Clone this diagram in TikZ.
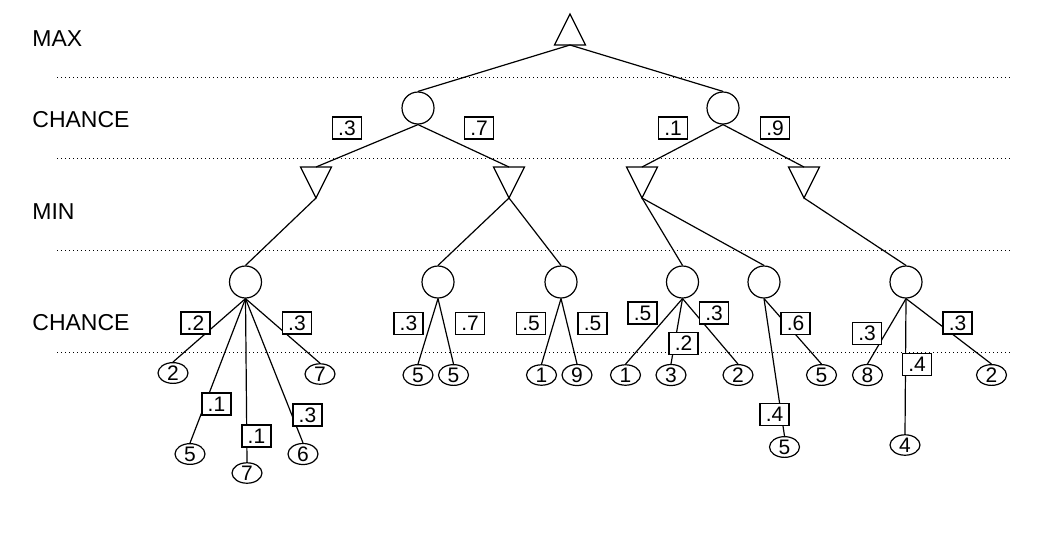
\documentclass[tikz,border=0pt]{standalone}
\usepackage{fontspec}
\setmainfont{Liberation Sans}
\usetikzlibrary{shapes.geometric}
\begin{document}
\begin{tikzpicture}[x=0.5pt,y=-0.5pt,
  ln/.style={line width=0.6pt,line join=miter},
  chance/.style={circle,draw,line width=0.6pt,minimum size=16pt,inner sep=0},
  leaf/.style={ellipse,draw,line width=0.6pt,minimum width=15pt,minimum height=10pt,inner sep=0,font=\fontsize{10.5}{11}\selectfont},
  prob/.style={rectangle,draw,fill=white,line width=0.6pt,minimum width=14.5pt,minimum height=11pt,inner sep=0,font=\fontsize{10.5}{11}\selectfont},
  lvl/.style={anchor=base west,inner sep=0,font=\fontsize{11.5}{13}\selectfont},
  sepline/.style={line width=0.5pt,dash pattern=on 0.5pt off 1.5pt}]
\useasboundingbox (0,0) rectangle (1048,558);

% level labels
\node[lvl] (lmax) at (32,46.5) {MAX};
\node[lvl] (lch1) at (32,127) {CHANCE};
\node[lvl] (lmin) at (32,219) {MIN};
\node[lvl] (lch2) at (32,330) {CHANCE};

% separators
\coordinate (s1a) at (57,77);  \coordinate (s1b) at (1012,77);
\coordinate (s2a) at (57,158); \coordinate (s2b) at (1012,158);
\coordinate (s3a) at (57,250); \coordinate (s3b) at (1012,250);
\coordinate (s4a) at (57,352); \coordinate (s4b) at (1012,352);
\draw[sepline] (s1a) -- (s1b);
\draw[sepline] (s2a) -- (s2b);
\draw[sepline] (s3a) -- (s3b);
\draw[sepline] (s4a) -- (s4b);

% MAX triangle
\draw[ln] (554.5,45) -- (585.5,45) -- (570,14) -- cycle;
\coordinate (maxb) at (570,45);

% MIN triangles
\foreach \n/\x in {t1/316,t2/509,t3/642,t4/804}{
  \draw[ln] (\x-15.5,167) -- (\x+15.5,167) -- (\x,198) -- cycle;
  \coordinate (\n t) at (\x,167);
  \coordinate (\n a) at (\x,198);
}

% chance nodes level 1
\node[chance] (ca) at (418,108) {};
\node[chance] (cb) at (723,108) {};

% chance nodes level 2
\node[chance] (da) at (245.5,282) {};
\node[chance] (db) at (438,282) {};
\node[chance] (dc) at (561,282) {};
\node[chance] (dd) at (682.5,282) {};
\node[chance] (de) at (764,282) {};
\node[chance] (df) at (906,282) {};

% leaves
\node[leaf] (a1) at (173,373) {2};
\node[leaf] (a2) at (190,454) {5};
\node[leaf] (a3) at (247,473) {7};
\node[leaf] (a4) at (303,454) {6};
\node[leaf] (a5) at (320,374) {7};
\node[leaf] (b1) at (418,375) {5};
\node[leaf] (b2) at (453.5,375) {5};
\node[leaf] (c1) at (541.5,375) {1};
\node[leaf] (c2) at (577,375) {9};
\node[leaf] (d1) at (625.5,375) {1};
\node[leaf] (d2) at (671,375) {3};
\node[leaf] (d3) at (738,375) {2};
\node[leaf] (e1) at (784.5,447) {5};
\node[leaf] (e2) at (821.5,375) {5};
\node[leaf] (f1) at (867.5,375) {8};
\node[leaf] (f2) at (905,445) {4};
\node[leaf] (f3) at (991.5,375) {2};

% edges
\draw[ln] (maxb) -- (ca.north);
\draw[ln] (maxb) -- (cb.north);
\draw[ln] (ca.south) -- (t1t);
\draw[ln] (ca.south) -- (t2t);
\draw[ln] (cb.south) -- (t3t);
\draw[ln] (cb.south) -- (t4t);
\draw[ln] (t1a) -- (da.north);
\draw[ln] (t2a) -- (db.north);
\draw[ln] (t2a) -- (dc.north);
\draw[ln] (t3a) -- (dd.north);
\draw[ln] (t3a) -- (de.north);
\draw[ln] (t4a) -- (df.north);
\foreach \p/\c in {da/a1,da/a2,da/a3,da/a4,da/a5,db/b1,db/b2,dc/c1,dc/c2,dd/d1,dd/d2,dd/d3,de/e1,de/e2,df/f1,df/f2,df/f3}
  \draw[ln] (\p.south) -- (\c.north);

% probabilities level 1
\node[prob] (pa1) at (347,128) {.3};
\node[prob] (pa2) at (479,128) {.7};
\node[prob] (pb1) at (673,128) {.1};
\node[prob] (pb2) at (775,128) {.9};

% probabilities level 2
\node[prob] (qa1) at (195.5,323) {.2};
\node[prob] (qa2) at (216.5,404) {.1};
\node[prob] (qa3) at (256.5,436) {.1};
\node[prob] (qa4) at (307.5,415) {.3};
\node[prob] (qa5) at (297,323) {.3};
\node[prob] (qb1) at (408.5,323.5) {.3};
\node[prob] (qb2) at (470,323.5) {.7};
\node[prob] (qc1) at (531,323.5) {.5};
\node[prob] (qc2) at (592.5,323.5) {.5};
\node[prob] (qd1) at (642.5,313) {.5};
\node[prob] (qd2) at (683.5,343.5) {.2};
\node[prob] (qd3) at (714,313) {.3};
\node[prob] (qe1) at (774.5,414.5) {.4};
\node[prob] (qe2) at (795.5,323.5) {.6};
\node[prob] (qf1) at (867,333.5) {.3};
\node[prob] (qf2) at (917,364.5) {.4};
\node[prob] (qf3) at (957.5,323) {.3};
\end{tikzpicture}
\end{document}
